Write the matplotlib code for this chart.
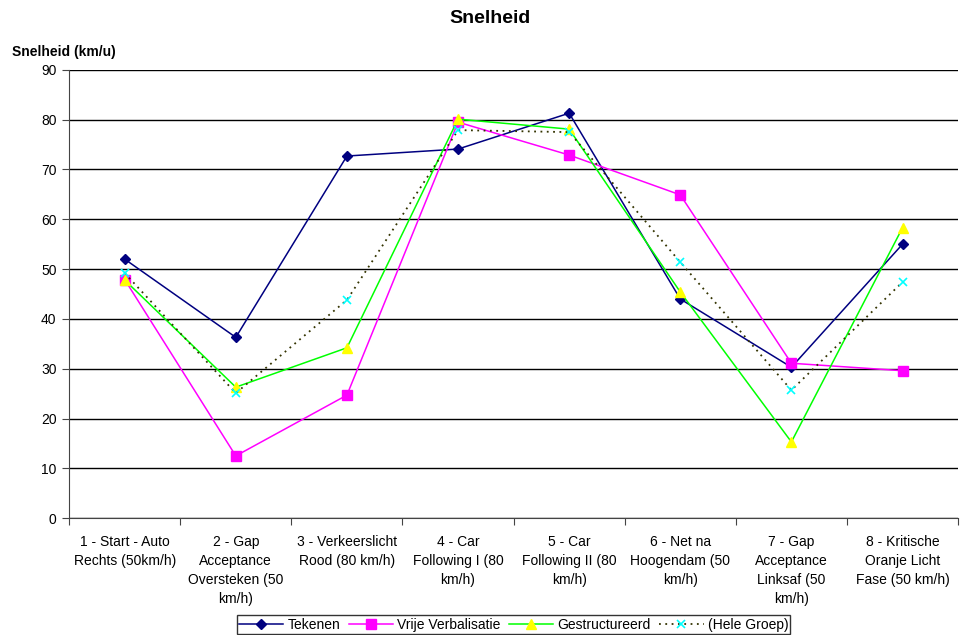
import numpy as np
import matplotlib
matplotlib.use('Agg')
import matplotlib.pyplot as plt

plt.rcParams['font.family'] = ['Liberation Sans', 'DejaVu Sans']

categories = ['1 - Start - Auto\nRechts (50km/h)',
              '2 - Gap\nAcceptance\nOversteken (50\nkm/h)',
              '3 - Verkeerslicht\nRood (80 km/h)',
              '4 - Car\nFollowing I (80\nkm/h)',
              '5 - Car\nFollowing II (80\nkm/h)',
              '6 - Net na\nHoogendam (50\nkm/h)',
              '7 - Gap\nAcceptance\nLinksaf (50\nkm/h)',
              '8 - Kritische\nOranje Licht\nFase (50 km/h)']

tekenen = [52.0, 36.3, 72.7, 74.1, 81.3, 44.0, 30.3, 55.0]
vrije = [47.9, 12.5, 24.7, 79.5, 72.9, 64.9, 31.1, 29.6]
gestructureerd = [47.8, 26.3, 34.2, 80.1, 78.1, 45.4, 15.3, 58.3]
hele_groep = [49.2, 25.1, 43.8, 77.9, 77.5, 51.4, 25.7, 47.4]

fig = plt.figure(figsize=(9.6, 6.35), dpi=100)
ax = fig.add_axes([0.072, 0.184, 0.926, 0.706])

x = np.arange(len(categories))
ax.plot(x, tekenen, color='#000080', lw=1.1, marker='D', ms=5,
        mfc='#000080', mec='#000080', label='Tekenen', zorder=3)
ax.plot(x, vrije, color='#ff00ff', lw=1.1, marker='s', ms=6.5,
        mfc='#ff00ff', mec='#ff00ff', label='Vrije Verbalisatie', zorder=3)
ax.plot(x, gestructureerd, color='#00ff00', lw=1.1, marker='^', ms=7,
        mfc='#ffff00', mec='#ffff00', label='Gestructureerd', zorder=3)
ax.plot(x, hele_groep, color='#333300', lw=1.3, ls=(0, (1, 2.5)), marker='x',
        ms=6, mec='#00ffff', mew=1.2, label='(Hele Groep)', zorder=3)

ax.set_xlim(-0.5, len(categories) - 0.5)
ax.set_ylim(0, 90)
ax.set_yticks(np.arange(0, 91, 10))
ax.yaxis.grid(True, color='black', lw=1)
ax.set_axisbelow(True)
for s in ['top', 'right']:
    ax.spines[s].set_visible(False)
ax.spines['left'].set_color('#444444')
ax.spines['bottom'].set_color('#444444')

ax.set_xticks(np.arange(-0.5, len(categories), 1))
ax.set_xticklabels([])
ax.set_xticks(x, minor=True)
ax.set_xticklabels(categories, minor=True, fontsize=10, linespacing=1.45,
                   va='top')
ax.tick_params(axis='x', which='minor', length=0, pad=12)
ax.tick_params(axis='x', which='major', length=5, color='#444444')
ax.tick_params(axis='y', length=5, labelsize=10, color='#444444', pad=4)

fig.text(0.51, 0.971, 'Snelheid', ha='center', va='center',
         fontsize=14, fontweight='bold')
fig.text(0.012, 0.918, 'Snelheid (km/u)', ha='left', va='center',
         fontsize=10, fontweight='bold')

leg = fig.legend(loc='lower center', bbox_to_anchor=(0.535, 0.0), ncol=4,
                 fontsize=10, frameon=True, fancybox=False, edgecolor='black',
                 handlelength=3.2, handletextpad=0.3, columnspacing=0.6,
                 borderpad=0.15, borderaxespad=0.1)
leg.get_frame().set_linewidth(1)

fig.savefig('out.png', dpi=100)
